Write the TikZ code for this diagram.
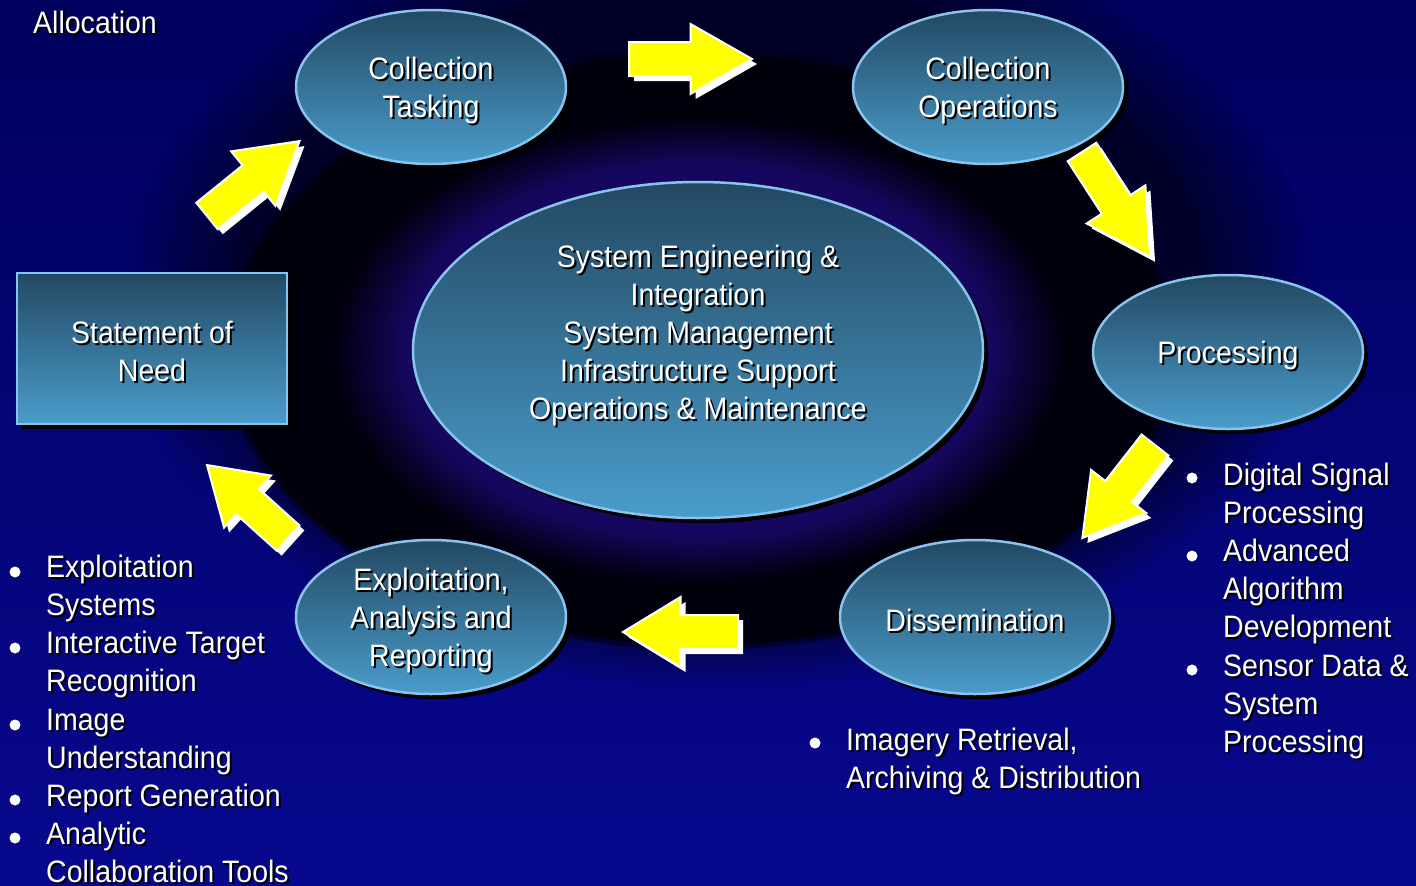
\documentclass[tikz,border=0pt]{standalone}
\usepackage{fontspec}
\setmainfont{Liberation Sans}[FakeStretch=0.92]
\usetikzlibrary{shapes.geometric,shadows,fadings}

\definecolor{bgtop}{HTML}{00005E}
\definecolor{bgbot}{HTML}{08088E}
\definecolor{darkcore}{HTML}{00000C}
\definecolor{glow}{HTML}{16075E}
\definecolor{shtop}{HTML}{234963}
\definecolor{shbot}{HTML}{4A9CCB}
\definecolor{rim}{HTML}{88C4EE}
\definecolor{arrowfill}{HTML}{FFFF00}

% white text with a black drop shadow
\newcommand\tsh[1]{\leavevmode\rlap{\kern2pt\raisebox{-2pt}{\color{black}#1}}#1}
% same, set a little lower inside a shape
\newcommand\tshd[1]{\raisebox{-4pt}[\height][\depth]{\tsh{#1}}}

% block arrow from its tail (x,y), pointing at angle #3, length #4
\newcommand\arrowoutline[1]{(0,-17) -- ({#1/2},-17) -- ({#1/2},-35) -- (#1,0) -- ({#1/2},35) -- ({#1/2},17) -- (0,17) -- cycle}
\newcommand\blockarrow[4]{%
  \begin{scope}[shift={({#1+5},{#2+5})},rotate=#3]
    \fill[white] \arrowoutline{#4};
  \end{scope}
  \begin{scope}[shift={(#1,#2)},rotate=#3]
    \filldraw[fill=arrowfill,draw=white,line width=2pt,line join=miter] \arrowoutline{#4};
  \end{scope}}

\tikzset{
  stage/.style={ellipse, draw=rim, line width=2.5pt, top color=shtop, bottom color=shbot,
    minimum width=270pt, minimum height=154pt, inner sep=0pt, align=center, text=white,
    drop shadow={shadow xshift=5pt, shadow yshift=-5pt, fill=black, opacity=1}},
  needbox/.style={rectangle, draw=rim, line width=2.5pt, top color=shtop, bottom color=shbot,
    minimum width=270pt, minimum height=151pt, inner sep=0pt, align=center, text=white,
    drop shadow={shadow xshift=5pt, shadow yshift=-5pt, fill=black, opacity=1}},
  itemtext/.style={anchor=base west, inner sep=0pt, text=white},
  dot/.style={circle, fill=white, minimum size=11pt, inner sep=0pt},
}

\begin{document}
\begin{tikzpicture}[x=1pt,y=-1pt,font=\fontsize{31pt}{38pt}\selectfont]
\useasboundingbox (0,0) rectangle (1416,886);

% backdrop
\shade[top color=bgtop, bottom color=bgbot] (0,0) rectangle (1416,886);
\fill[black, opacity=0.6, path fading=circle with fuzzy edge 20 percent] (720,300) ellipse [x radius=600, y radius=390];
\fill[darkcore, opacity=0.5] (700,350) ellipse [x radius=475, y radius=300];
\fill[darkcore] (700,350) ellipse [x radius=470, y radius=295];
\fill[glow, path fading=circle with fuzzy edge 20 percent] (698,350) ellipse [x radius=365, y radius=232];

% central ellipse
\node[stage, minimum width=570pt, minimum height=336pt] (core) at (698,350) {};
\node[align=center, text=white, inner sep=0pt] (coretext) at (698,336)
  {\tsh{System Engineering \&}\\\tsh{Integration}\\\tsh{System Management}\\\tsh{Infrastructure Support}\\\tsh{Operations \& Maintenance}};

% cycle stages
\node[stage] (tasking) at (431,87) {\tshd{Collection}\\\tshd{Tasking}};
\node[stage] (operations) at (988,87) {\tshd{Collection}\\\tshd{Operations}};
\node[stage] (processing) at (1228,352) {\tshd{Processing}};
\node[stage] (dissemination) at (975,617) {\tshd{Dissemination}};
\node[stage] (exploitation) at (431,617) {\tshd{Exploitation,}\\\tshd{Analysis and}\\\tshd{Reporting}};
\node[needbox] (need) at (152,348.5) {\tshd{Statement of}\\\tshd{Need}};

% flow arrows
\blockarrow{629}{59}{0}{123}
\blockarrow{1082}{152}{-57}{125}
\blockarrow{1155}{445}{232}{118}
\blockarrow{738}{632}{180}{115}
\blockarrow{288}{538}{138}{109}
\blockarrow{207}{216}{39}{119}

% text at the top left
\node[itemtext] (alloc) at (33,33) {\tsh{Allocation}};

% exploitation items
\node[dot] (lb1) at (15,572) {};
\node[dot] (lb2) at (15,648) {};
\node[dot] (lb3) at (15,725) {};
\node[dot] (lb4) at (15,800) {};
\node[dot] (lb5) at (15,838) {};
\node[itemtext] (l1) at (46,577) {\tsh{Exploitation}};
\node[itemtext] (l2) at (46,615) {\tsh{Systems}};
\node[itemtext] (l3) at (46,653) {\tsh{Interactive Target}};
\node[itemtext] (l4) at (46,691) {\tsh{Recognition}};
\node[itemtext] (l5) at (46,730) {\tsh{Image}};
\node[itemtext] (l6) at (46,768) {\tsh{Understanding}};
\node[itemtext] (l7) at (46,806) {\tsh{Report Generation}};
\node[itemtext] (l8) at (46,844) {\tsh{Analytic}};
\node[itemtext] (l9) at (46,882) {\tsh{Collaboration Tools}};

% processing items
\node[dot] (rb1) at (1192,478) {};
\node[dot] (rb2) at (1192,556) {};
\node[dot] (rb3) at (1192,670) {};
\node[itemtext] (r1) at (1223,485) {\tsh{Digital Signal}};
\node[itemtext] (r2) at (1223,523) {\tsh{Processing}};
\node[itemtext] (r3) at (1223,561) {\tsh{Advanced}};
\node[itemtext] (r4) at (1223,599) {\tsh{Algorithm}};
\node[itemtext] (r5) at (1223,637) {\tsh{Development}};
\node[itemtext] (r6) at (1223,676) {\tsh{Sensor Data \&}};
\node[itemtext] (r7) at (1223,714) {\tsh{System}};
\node[itemtext] (r8) at (1223,752) {\tsh{Processing}};

% dissemination item
\node[dot] (db1) at (815,743) {};
\node[itemtext] (d1) at (846,750) {\tsh{Imagery Retrieval,}};
\node[itemtext] (d2) at (846,788) {\tsh{Archiving \& Distribution}};
\end{tikzpicture}
\end{document}
